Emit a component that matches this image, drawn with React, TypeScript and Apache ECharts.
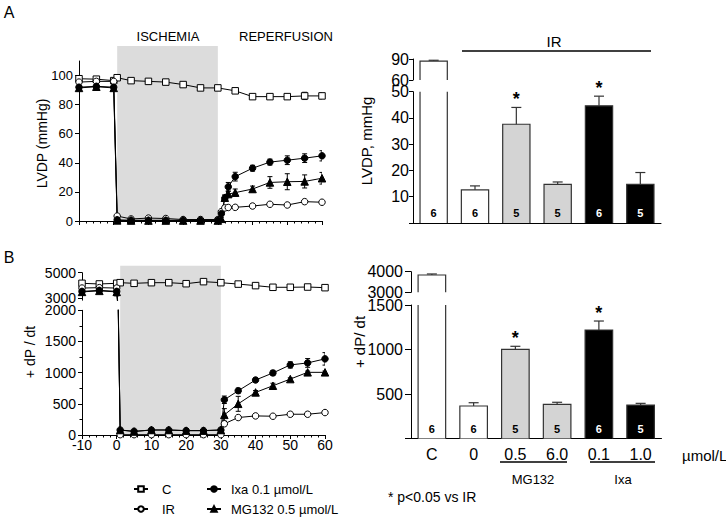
import React, { useEffect, useRef } from "react";
import * as echarts from "echarts";

const FONT = '"Liberation Sans", Arial, Helvetica, sans-serif';

// ---------- Panel A (left): LVDP time course ----------
const timeC = [-10, -5, 0, 1, 5, 10, 15, 20, 25, 30, 35, 40, 45, 50, 55, 60];
const lvdpC = [97.8, 97.5, 96.5, 98.5, 96.5, 96, 95.5, 93.8, 91.5, 91.5, 89.5, 85.5, 85.5, 85.5, 86, 86];
const lvdpCErr = [1, 1, 1, 0.8, 0.8, 0.8, 0.8, 1, 0.8, 0.8, 1, 1, 1, 1, 2.5, 2];
const timeA = [-10, -5, 0, 1, 5, 10, 15, 20, 25, 30, 31, 32, 33, 35, 40, 45, 50, 55, 60];
const lvdpIR = [95.5, 96, 96, 3.4, 1.4, 2, 1.7, 1, 1, 1, 6.4, 9, 9.3, 9.4, 10.3, 11.5, 11, 13.3, 12.9];
const lvdpIRErr = [1, 1, 1, 0.5, 0.5, 0.5, 0.5, 0.5, 0.5, 0.5, 0.5, 0.5, 0.5, 0.5, 0.8, 0.8, 0.8, 0.8, 0.8];
const lvdpIxa = [92, 92.6, 92, 0.8, 0.5, 0.5, 0.5, 0.5, 0.5, 0.5, 5, 15.6, 23.5, 30.5, 36.3, 40.5, 41.8, 43.2, 44.8];
const lvdpIxaErr = [1, 1, 1, 0, 0, 0, 0, 0, 0, 0, 1, 2, 3, 3, 2, 2, 3, 3, 3.5];
const lvdpMG = [91.5, 92.3, 91.5, 0.4, 0.3, 0.3, 0.3, 0.3, 0.3, 0.3, 1.5, 16, 18.5, 19.5, 22, 26.5, 27, 27.2, 29.4];
const lvdpMGErr = [1, 1, 1, 0, 0, 0, 0, 0, 0, 0, 1, 2, 2, 2.5, 2, 4, 5.5, 4.5, 4];

// ---------- Panel B (left): +dP/dt time course ----------
const dpdtC = [4170, 4120, 4170, 4220, 4170, 4220, 4220, 4140, 4300, 4220, 4110, 3990, 3860, 3860, 3880, 3830];
const dpdtCErr = [60, 50, 60, 40, 40, 40, 40, 40, 40, 40, 40, 40, 40, 40, 40, 40];
const timeB = [-10, -5, 0, 1, 5, 10, 15, 20, 25, 30, 31, 35, 40, 45, 50, 55, 60];
const dpdtIR = [3800, 3830, 3800, 5, 5, 5, 5, 5, 5, 5, 180, 280, 306, 301, 333, 333, 360];
const dpdtIRErr = [80, 80, 80, 0, 0, 0, 0, 0, 0, 0, 20, 15, 15, 15, 15, 15, 15];
const dpdtIxa = [3540, 3620, 3540, 80, 60, 80, 80, 70, 70, 80, 565, 710, 882, 995, 1124, 1156, 1221];
const dpdtIxaErr = [150, 100, 350, 0, 0, 0, 0, 0, 0, 0, 60, 40, 30, 40, 50, 70, 100];
const dpdtMG = [3500, 3580, 3500, 80, 55, 80, 80, 70, 70, 80, 323, 500, 683, 790, 897, 1005, 1005];
const dpdtMGErr = [100, 100, 100, 0, 0, 0, 0, 0, 0, 0, 100, 120, 30, 40, 20, 20, 20];

const xTicks = [-10, 60];
const ischemiaWindow = [1, 30];

// ---------- Right panels: bar charts ----------
const barCats = ["C", "0", "0.5", "6.0", "0.1", "1.0"];
const lvdpBar = [87, 12.6, 37.6, 14.7, 44.6, 14.7];
const lvdpBarErr = [1.2, 1.5, 6.4, 0.9, 3.7, 4.5];
const dpdtBar = [3840, 365, 1002, 384, 1219, 376];
const dpdtBarErr = [50, 37, 34, 23, 101, 19];
const nPerGroup = ["6", "6", "5", "5", "6", "5"];
const significant = [false, false, true, false, true, false];
const barFills = ["#ffffff", "#ffffff", "#d4d4d4", "#d4d4d4", "#000000", "#000000"];

const NAME_C = "C";
const NAME_IR = "IR";
const NAME_IXA = "Ixa 0.1 \u00b5mol/L";
const NAME_MG = "MG132 0.5 \u00b5mol/L";

const styles: any = {
  [NAME_C]: { symbol: "rect", size: 6.5, fill: "#ffffff" },
  [NAME_IR]: { symbol: "circle", size: 6.5, fill: "#ffffff" },
  [NAME_IXA]: { symbol: "circle", size: 6.5, fill: "#000000" },
  [NAME_MG]: { symbol: "triangle", size: 7.5, fill: "#000000" },
};

function zip3(t: number[], v: number[], e: number[]) {
  return t.map((x, i) => [x, v[i], e[i]]);
}

function lineSeries(name: string, times: number[], vals: number[], idx: number) {
  const s = styles[name];
  return {
    type: "line",
    name,
    xAxisIndex: idx,
    yAxisIndex: idx,
    data: times.map((t, i) => [t, vals[i]]),
    symbol: s.symbol,
    symbolSize: s.size,
    itemStyle: { color: s.fill, borderColor: "#000", borderWidth: 1 },
    lineStyle: { color: "#000", width: 1 },
    clip: true,
    silent: true,
    z: 3,
  };
}

function errSeries(idx: number, items: number[][]) {
  return {
    type: "custom",
    xAxisIndex: idx,
    yAxisIndex: idx,
    clip: true,
    silent: true,
    z: 2,
    data: items,
    encode: { x: 0, y: 1 },
    renderItem: (params: any, api: any) => {
      const x = api.value(0);
      const y = api.value(1);
      const e = api.value(2);
      if (!e) return null;
      const hi = api.coord([x, y + e]);
      const lo = api.coord([x, y - e]);
      const c = 2.5;
      const st = { stroke: "#000", lineWidth: 1 };
      return {
        type: "group",
        children: [
          { type: "line", shape: { x1: hi[0], y1: hi[1], x2: lo[0], y2: lo[1] }, style: st },
          { type: "line", shape: { x1: hi[0] - c, y1: hi[1], x2: hi[0] + c, y2: hi[1] }, style: st },
          { type: "line", shape: { x1: lo[0] - c, y1: lo[1], x2: lo[0] + c, y2: lo[1] }, style: st },
        ],
      };
    },
  };
}

function barSeries(idx: number, vals: number[], errs: number[], showN: boolean) {
  return {
    type: "custom",
    xAxisIndex: idx,
    yAxisIndex: idx,
    silent: true,
    z: 2,
    data: vals.map((v, i) => [i, v, errs[i]]),
    encode: { x: 0, y: 1 },
    renderItem: (params: any, api: any) => {
      const i = api.value(0);
      const v = api.value(1);
      const e = api.value(2);
      const cs = params.coordSys;
      const top = api.coord([i, v]);
      const errTop = api.coord([i, v + e]);
      const yBot = cs.y + cs.height;
      if (top[1] >= yBot) return null;
      const clipped = top[1] < cs.y;
      const yTop = clipped ? cs.y : top[1];
      const hw = api.size([1, 0])[0] * 0.33;
      const xc = top[0];
      const xl = xc - hw;
      const xr = xc + hw;
      const fill = barFills[params.dataIndex];
      const st = { stroke: "#333", lineWidth: 1.2, fill: null };
      const children: any[] = [
        { type: "rect", shape: { x: xl, y: yTop, width: 2 * hw, height: yBot - yTop }, style: { fill, stroke: null } },
      ];
      if (clipped) {
        children.push({ type: "line", shape: { x1: xl, y1: yBot, x2: xl, y2: yTop }, style: st });
        children.push({ type: "line", shape: { x1: xr, y1: yBot, x2: xr, y2: yTop }, style: st });
      } else {
        children.push({
          type: "polyline",
          shape: { points: [[xl, yBot], [xl, yTop], [xr, yTop], [xr, yBot]] },
          style: st,
        });
        const ey = Math.max(errTop[1], cs.y);
        children.push({ type: "line", shape: { x1: xc, y1: yTop, x2: xc, y2: ey }, style: st });
        children.push({ type: "line", shape: { x1: xc - 5, y1: ey, x2: xc + 5, y2: ey }, style: st });
        if (significant[params.dataIndex]) {
          children.push({
            type: "text",
            style: {
              text: "*",
              x: xc,
              y: ey - 8,
              align: "center",
              verticalAlign: "middle",
              font: `bold 18px ${FONT}`,
              fill: "#000",
            },
          });
        }
      }
      if (showN) {
        children.push({
          type: "text",
          style: {
            text: nPerGroup[params.dataIndex],
            x: xc,
            y: yBot - 10,
            align: "center",
            verticalAlign: "middle",
            font: `bold 11px ${FONT}`,
            fill: fill === "#000000" ? "#fff" : "#000",
          },
        });
      }
      return { type: "group", children };
    },
  };
}

const axisLine = { show: true, onZero: false, lineStyle: { color: "#000", width: 1 } };
const plain = (v: number) => String(v);

function timeXAxis(grid: number, labels: boolean, show = true) {
  return {
    type: "value",
    gridIndex: grid,
    show,
    min: xTicks[0],
    max: xTicks[1],
    interval: 10,
    axisLine,
    axisTick: { show: true, length: 4, lineStyle: { color: "#000" } },
    minorTick: { show: true, splitNumber: 5, length: 2.5, lineStyle: { color: "#000" } },
    splitLine: { show: false },
    minorSplitLine: { show: false },
    axisLabel: { show: labels, color: "#000", fontFamily: FONT, fontSize: 14, margin: 3, formatter: plain },
  };
}

function catXAxis(grid: number, show: boolean, labels: boolean) {
  return {
    type: "category",
    gridIndex: grid,
    show,
    data: barCats,
    axisLine,
    axisTick: { show: false },
    splitLine: { show: false },
    axisLabel: { show: labels, color: "#000", fontFamily: FONT, fontSize: 16, margin: 8 },
  };
}

function yAxisDef(grid: number, min: number, max: number, fontSize: number, margin: number, extra: any = {}) {
  return {
    type: "value",
    gridIndex: grid,
    min,
    max,
    axisLine,
    axisTick: { show: true, length: 4, lineStyle: { color: "#000" }, ...(extra.tick || {}) },
    splitLine: { show: false },
    axisLabel: {
      color: "#000",
      fontFamily: FONT,
      fontSize,
      margin,
      lineHeight: Math.round(fontSize * 0.8),
      formatter: plain,
      ...(extra.label || {}),
    },
    ...(extra.axis || {}),
  };
}

const gridBase = { containLabel: false, outerBoundsMode: "none" };
const hideZero = (v: number) => (v === 0 ? "" : String(v));

const legendText = { fontSize: 13, fontFamily: FONT, color: "#000", lineHeight: 14 };

const option: any = {
  animation: false,
  backgroundColor: "#fff",
  textStyle: { fontFamily: FONT },
  grid: [
    { ...gridBase, left: 79, top: 61, width: 243, height: 160 },
    { ...gridBase, left: 82, top: 272.7, width: 243, height: 27.5 },
    { ...gridBase, left: 82, top: 310.3, width: 243, height: 124.7 },
    { ...gridBase, left: 413, top: 59, width: 248, height: 21 },
    { ...gridBase, left: 413, top: 91.7, width: 248, height: 131.2 },
    { ...gridBase, left: 411, top: 271.7, width: 250.5, height: 20.6 },
    { ...gridBase, left: 411, top: 305, width: 250.5, height: 133.5 },
  ],
  xAxis: [
    timeXAxis(0, false),
    timeXAxis(1, false, false),
    timeXAxis(2, true),
    catXAxis(3, false, false),
    catXAxis(4, true, false),
    catXAxis(5, false, false),
    catXAxis(6, true, true),
  ],
  yAxis: [
    yAxisDef(0, 0, 110, 13, 6, {
      label: { customValues: [0, 20, 40, 60, 80, 100] },
      tick: { customValues: [0, 20, 40, 60, 80, 100] },
    }),
    yAxisDef(1, 2850, 5000, 14, 6, {
      label: { customValues: [3000, 5000] },
      tick: { customValues: [3000, 5000] },
    }),
    yAxisDef(2, 0, 2000, 14, 6, {
      axis: { interval: 500, minorTick: { show: true, splitNumber: 2, length: 2.5, lineStyle: { color: "#000" } } },
    }),
    yAxisDef(3, 60, 90, 16, 4, {
      label: { customValues: [60, 90] },
      tick: { customValues: [60, 90] },
    }),
    yAxisDef(4, 0, 50, 16, 4, {
      axis: { interval: 10 },
      label: { formatter: hideZero },
    }),
    yAxisDef(5, 3000, 4000, 16, 8, {
      label: { customValues: [3000, 4000] },
      tick: { customValues: [3000, 4000], length: 6 },
    }),
    yAxisDef(6, 0, 1500, 16, 8, {
      axis: { interval: 500 },
      label: { formatter: hideZero },
      tick: { length: 6 },
    }),
  ],
  legend: [
    {
      data: [NAME_C, NAME_IR],
      orient: "vertical",
      left: 133,
      top: 482,
      height: 39,
      padding: 0,
      itemWidth: 14,
      itemHeight: 7,
      itemGap: 6,
      selectedMode: false,
      textStyle: { ...legendText, padding: [0, 0, 0, 9] },
    },
    {
      data: [NAME_IXA, NAME_MG],
      orient: "vertical",
      left: 206,
      top: 482,
      height: 39,
      padding: 0,
      itemWidth: 14,
      itemHeight: 7,
      itemGap: 6,
      selectedMode: false,
      textStyle: { ...legendText, padding: [0, 0, 0, 5] },
    },
  ],
  series: [
    // Panel A left
    errSeries(0, [
      ...zip3(timeC, lvdpC, lvdpCErr),
      ...zip3(timeA, lvdpIR, lvdpIRErr),
      ...zip3(timeA, lvdpIxa, lvdpIxaErr),
      ...zip3(timeA, lvdpMG, lvdpMGErr),
    ]),
    lineSeries(NAME_C, timeC, lvdpC, 0),
    lineSeries(NAME_IR, timeA, lvdpIR, 0),
    lineSeries(NAME_IXA, timeA, lvdpIxa, 0),
    lineSeries(NAME_MG, timeA, lvdpMG, 0),
    // Panel B left (upper and lower segments of the broken axis)
    ...[1, 2].flatMap((g) => [
      errSeries(g, [
        ...zip3(timeC, dpdtC, dpdtCErr),
        ...zip3(timeB, dpdtIR, dpdtIRErr),
        ...zip3(timeB, dpdtIxa, dpdtIxaErr),
        ...zip3(timeB, dpdtMG, dpdtMGErr),
      ]),
      lineSeries(NAME_C, timeC, dpdtC, g),
      lineSeries(NAME_IR, timeB, dpdtIR, g),
      lineSeries(NAME_IXA, timeB, dpdtIxa, g),
      lineSeries(NAME_MG, timeB, dpdtMG, g),
    ]),
    // Right bars
    barSeries(3, lvdpBar, lvdpBarErr, false),
    barSeries(4, lvdpBar, lvdpBarErr, true),
    barSeries(5, dpdtBar, dpdtBarErr, false),
    barSeries(6, dpdtBar, dpdtBarErr, true),
  ],
};

function txt(text: string, x: number, y: number, size: number, extra: any = {}) {
  return {
    type: "text",
    x,
    y,
    rotation: extra.rotation || 0,
    z: 10,
    style: {
      text,
      align: extra.align || "center",
      verticalAlign: "middle",
      font: `${extra.weight || "normal"} ${size}px ${FONT}`,
      fill: "#000",
    },
  };
}

function hline(x1: number, x2: number, y: number, w = 1.5) {
  return { type: "line", z: 10, shape: { x1, y1: y, x2, y2: y }, style: { stroke: "#000", lineWidth: w } };
}

export default function App() {
  const ref = useRef<HTMLDivElement>(null);
  useEffect(() => {
    if (!ref.current) return;
    const chart = echarts.init(ref.current, undefined, { renderer: "svg" });
    chart.setOption(option);

    const ax0 = chart.convertToPixel({ xAxisIndex: 0 }, ischemiaWindow[0]) as number;
    const ax1 = chart.convertToPixel({ xAxisIndex: 0 }, ischemiaWindow[1]) as number;
    const ayBot = chart.convertToPixel({ yAxisIndex: 0 }, 0) as number;
    const bx0 = chart.convertToPixel({ xAxisIndex: 2 }, ischemiaWindow[0]) as number;
    const bx1 = chart.convertToPixel({ xAxisIndex: 2 }, ischemiaWindow[1]) as number;
    const byBot = chart.convertToPixel({ yAxisIndex: 2 }, 0) as number;
    const byTop = (chart.convertToPixel({ yAxisIndex: 1 }, 5000) as number) - 7;
    const ayTop = 46;

    const shade = { fill: "#dcdcdc" };
    chart.setOption({
      graphic: [
        { type: "rect", z: 0, shape: { x: ax0, y: ayTop, width: ax1 - ax0, height: ayBot - ayTop }, style: shade },
        { type: "rect", z: 0, shape: { x: bx0, y: byTop, width: bx1 - bx0, height: byBot - byTop }, style: shade },
        txt("A", 9, 12, 16),
        txt("B", 9, 257, 16),
        txt("ISCHEMIA", 168, 36, 13),
        txt("REPERFUSION", 286, 36, 13),
        txt("LVDP (mmHg)", 41.5, 143.5, 14, { rotation: Math.PI / 2 }),
        txt("+ dP / dt", 30, 352, 14, { rotation: Math.PI / 2 }),
        txt("LVDP, mmHg", 366, 141, 15, { rotation: Math.PI / 2 }),
        txt("+ dP/ dt", 359, 342, 15, { rotation: Math.PI / 2 }),
        txt("IR", 554, 41, 15),
        hline(462, 651, 51),
        txt("\u00b5mol/L", 682, 455, 15, { align: "left" }),
        hline(500, 567, 462),
        hline(590, 655, 462),
        txt("MG132", 533, 479, 13),
        txt("Ixa", 623, 479, 13),
        txt("* p<0.05 vs IR", 388, 497, 14, { align: "left" }),
      ],
    });
    return () => chart.dispose();
  }, []);
  return (
    <div
      ref={ref}
      style={{ position: "absolute", left: 0, top: 0, width: 726, height: 521, background: "#fff" }}
    />
  );
}
